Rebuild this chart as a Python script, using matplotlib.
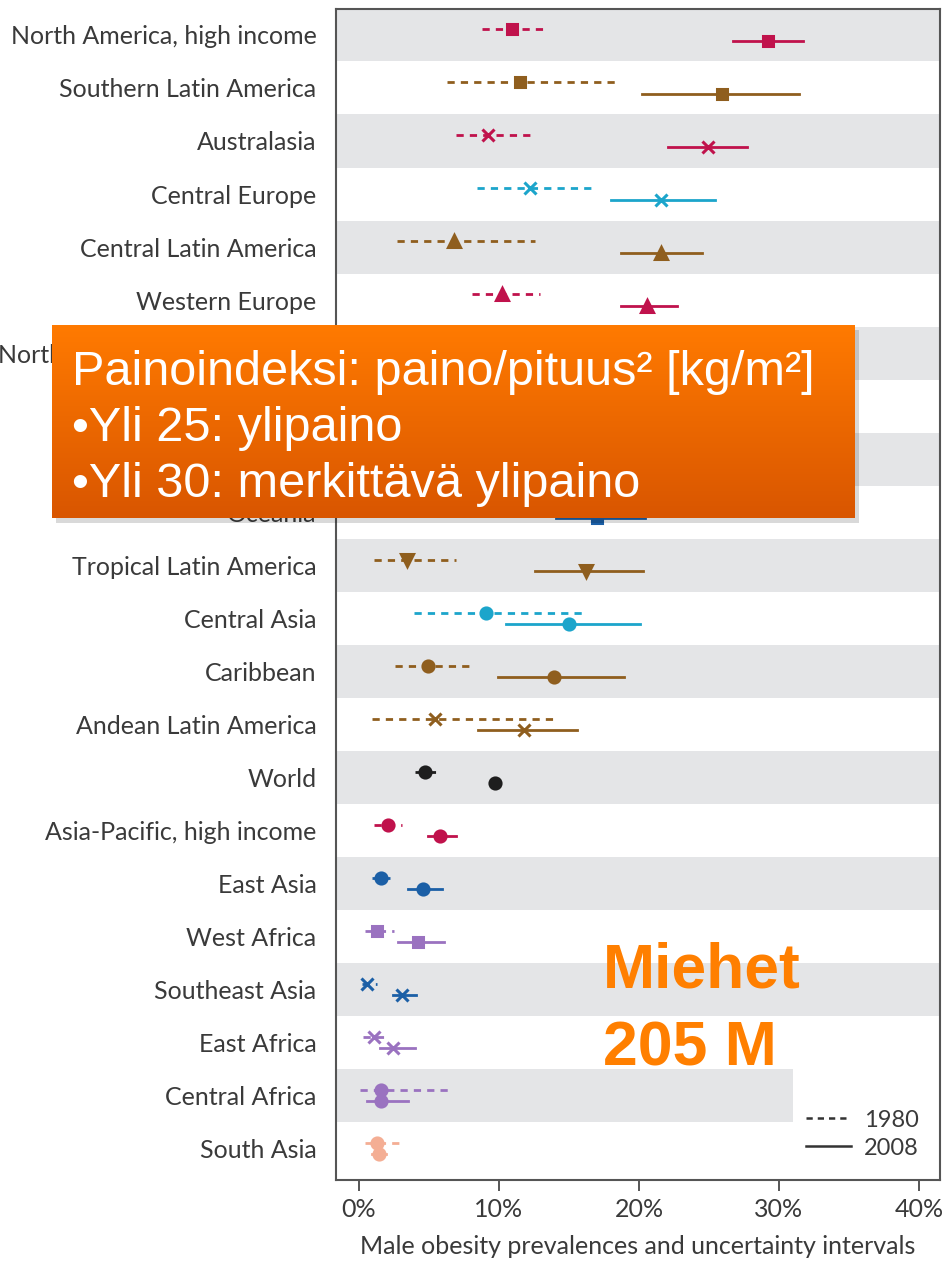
import matplotlib
matplotlib.use("Agg")
import matplotlib.pyplot as plt
import numpy as np
from matplotlib.lines import Line2D
from matplotlib.colors import LinearSegmentedColormap

########### DATA ###########
regions = ["North America, high income", "Southern Latin America", "Australasia",
           "Central Europe", "Central Latin America", "Western Europe",
           "North Africa and Middle East", "Eastern Europe", "Southern Africa",
           "Oceania", "Tropical Latin America", "Central Asia", "Caribbean",
           "Andean Latin America", "World", "Asia-Pacific, high income",
           "East Asia", "West Africa", "Southeast Asia", "East Africa",
           "Central Africa", "South Asia"]

mid_1980 = [10.9, 11.5, 9.2, 12.2, 6.8, 10.2, 8.0, 10.0, 7.0, 8.0, 3.4, 9.1, 4.9,
            5.4, 4.7, 2.1, 1.6, 1.3, 0.6, 1.1, 1.6, 1.3]
lo_1980 = [8.8, 6.3, 6.9, 8.4, 2.7, 8.1, 5.0, 7.0, 4.0, 4.0, 1.1, 3.9, 2.6,
           0.9, 4.0, 1.1, 0.9, 0.4, 0.2, 0.3, 0.1, 0.4]
hi_1980 = [13.4, 18.4, 12.4, 16.9, 12.6, 12.9, 11.0, 13.0, 10.0, 13.0, 6.9, 16.1, 8.1,
           13.9, 5.6, 3.1, 2.2, 2.5, 1.3, 2.1, 6.7, 3.1]

mid_2008 = [29.2, 25.9, 24.9, 21.6, 21.6, 20.6, 19.5, 18.2, 17.5, 17.0, 16.2, 15.0, 13.9,
            11.8, 9.7, 5.8, 4.6, 4.2, 3.1, 2.4, 1.6, 1.4]
lo_2008 = [26.7, 20.2, 22.1, 18.0, 18.7, 18.7, 17.0, 15.5, 14.5, 14.1, 12.6, 10.5, 9.9,
           8.5, 9.4, 4.9, 3.5, 2.8, 2.4, 1.5, 0.6, 0.9]
hi_2008 = [31.7, 31.4, 27.7, 25.4, 24.5, 22.7, 22.0, 21.0, 20.5, 20.4, 20.3, 20.1, 18.9,
           15.6, 10.1, 6.9, 5.9, 6.1, 4.1, 4.0, 3.5, 1.9]

CRIMSON = "#C0124C"
BROWN = "#8F5E1E"
CYAN = "#1CA5CB"
BLUE = "#1B5FA6"
PURPLE = "#9A72C0"
PEACH = "#F4AE94"
BLACK = "#1E1E1E"
GOLD = "#C08A2A"

colors = [CRIMSON, BROWN, CRIMSON, CYAN, BROWN, CRIMSON, GOLD, CYAN, PURPLE,
          BLUE, BROWN, CYAN, BROWN, BROWN, BLACK, CRIMSON, BLUE, PURPLE, BLUE,
          PURPLE, PURPLE, PEACH]
markers = ["s", "s", "x", "x", "^", "^", "o", "o", "x", "s", "v", "o", "o",
           "x", "o", "o", "o", "s", "x", "x", "o", "o"]

ticks = [0, 10, 20, 30, 40]
tick_labels = ["0%", "10%", "20%", "30%", "40%"]
############################

W, H = 945, 1265
fig = plt.figure(figsize=(W / 100, H / 100), dpi=100)
ax = fig.add_axes([336 / W, 1 - 1180 / H, (940 - 336) / W, (1180 - 9) / H])

XMIN, XMAX = -1.64, 41.5
ax.set_xlim(XMIN, XMAX)
ax.set_ylim(21.6, -0.49)

BAND = "#E4E5E7"
band_stop = 31.0  # Central Africa band stops short to make room for the legend
for i in range(len(regions)):
    if i % 2 == 0:
        xmax = 1.0 if i != 20 else (band_stop - XMIN) / (XMAX - XMIN)
        ax.axhspan(i - 0.5, i + 0.5, xmin=0, xmax=xmax, color=BAND, lw=0, zorder=0)

off = 0.105
for i in range(len(regions)):
    c, m = colors[i], markers[i]
    ms = 7.5 if m == "s" else (9 if m in "^v" else (9 if m == "x" else 8))
    y0 = i - off
    y1 = i + off
    ax.plot([lo_1980[i], hi_1980[i]], [y0, y0], color=c, lw=2, ls=(0, (2.6, 2.2)), zorder=2)
    ax.plot([mid_1980[i]], [y0], marker=m, color=c, ms=ms, mew=2.2, ls="none", zorder=3)
    ax.plot([lo_2008[i], hi_2008[i]], [y1, y1], color=c, lw=2, zorder=2)
    ax.plot([mid_2008[i]], [y1], marker=m, color=c, ms=ms, mew=2.2, ls="none", zorder=3)

LABEL_FONT = "Lato"
TXT = "#3A3A3A"
ax.set_yticks(range(len(regions)))
ax.set_yticklabels(regions, fontsize=18, family=LABEL_FONT, color=TXT)
ax.tick_params(axis="y", length=0, pad=14)
ax.set_xticks(ticks)
ax.set_xticklabels(tick_labels, fontsize=18, family=LABEL_FONT, color=TXT)
ax.tick_params(axis="x", length=8, width=1.4, color="#555555", pad=5)
ax.set_xlabel("Male obesity prevalences and uncertainty intervals", fontsize=18,
              family=LABEL_FONT, color=TXT, labelpad=10)
for s in ax.spines.values():
    s.set_color("#555555")
    s.set_linewidth(1.5)

handles = [Line2D([], [], color="#333333", lw=1.8, ls=(0, (2.5, 2))),
           Line2D([], [], color="#333333", lw=1.8)]
leg = ax.legend(handles, ["1980", "2008"], loc="lower right", frameon=False,
                handlelength=1.9, prop={"family": LABEL_FONT, "size": 17},
                bbox_to_anchor=(1.0, 0.0), labelcolor=TXT, handletextpad=0.55,
                labelspacing=0.3)

# orange info box with shadow
shadow = fig.add_axes([56 / W, 1 - 523 / H, (855 - 52) / W, (518 - 325) / H])
shadow.set_axis_off()
shadow.add_patch(plt.Rectangle((0, 0), 1, 1, transform=shadow.transAxes,
                               color="#000000", alpha=0.15, lw=0))
shadow.set_zorder(9)

box = fig.add_axes([52 / W, 1 - 518 / H, (855 - 52) / W, (518 - 325) / H])
cmap = LinearSegmentedColormap.from_list("orange", ["#FF7A00", "#D95600"])
box.imshow(np.linspace(0, 1, 100).reshape(-1, 1), aspect="auto", cmap=cmap,
           extent=[0, 1, 0, 1], origin="upper")
box.set_axis_off()
box.set_zorder(10)

BOX_FONT = ["Liberation Sans", "DejaVu Sans"]
box_lines = ["Painoindeksi: paino/pituus² [kg/m²]", "•Yli 25: ylipaino",
             "•Yli 30: merkittävä ylipaino"]
for k, line in enumerate(box_lines):
    fig.text(72 / W, 1 - (385 + 56 * k) / H, line, color="white", fontsize=35,
             family=BOX_FONT, va="baseline", ha="left", zorder=20)

fig.text(603 / W, 1 - 987 / H, "Miehet", color="#FF7F00", fontsize=45,
         family=BOX_FONT, weight="bold", va="baseline", ha="left", zorder=20)
fig.text(603 / W, 1 - 1065 / H, "205 M", color="#FF7F00", fontsize=45,
         family=BOX_FONT, weight="bold", va="baseline", ha="left", zorder=20)

fig.savefig("out.png", dpi=100)
